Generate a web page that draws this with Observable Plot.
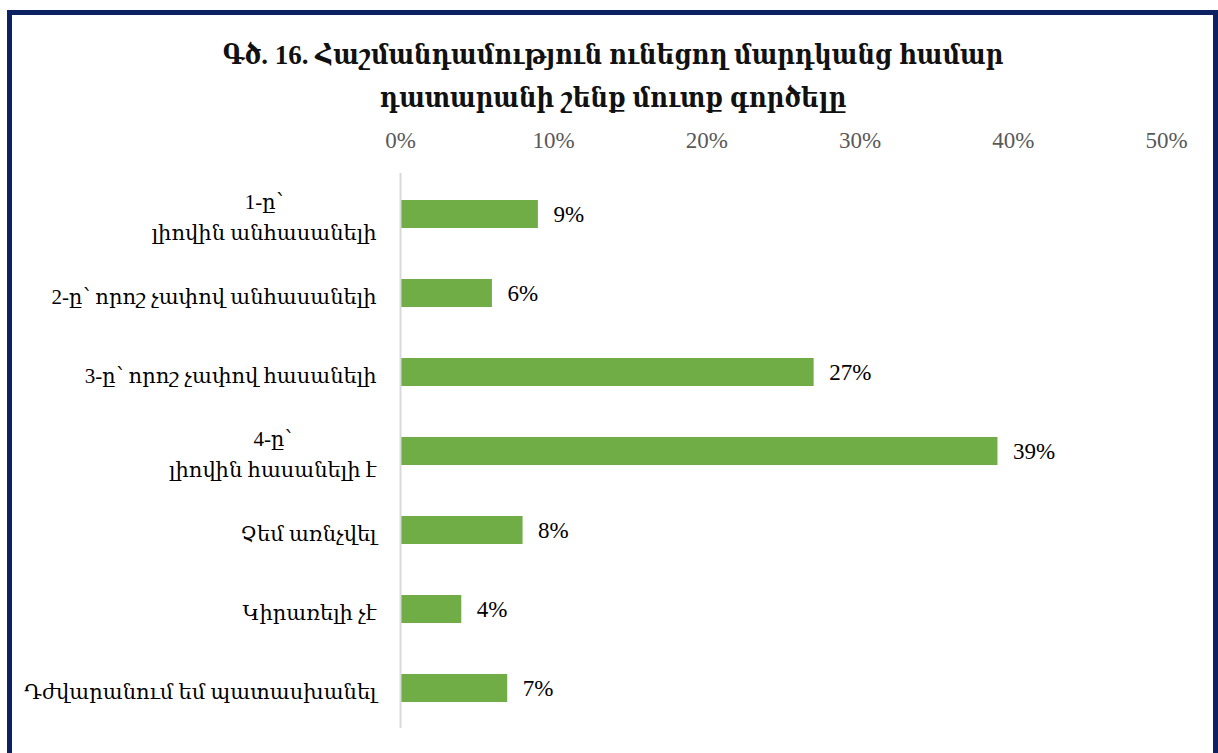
<!DOCTYPE html>
<html>
<head>
<meta charset="utf-8">
<script src="https://cdn.jsdelivr.net/npm/d3@7"></script>
<script src="https://cdn.jsdelivr.net/npm/@observablehq/plot@0.6"></script>
<style>
  html, body { margin: 0; padding: 0; background: #fff; }
  #wrap { position: relative; width: 1218px; height: 753px; overflow: hidden; }
  #frame { position: absolute; left: 7px; top: 10px; width: 1201px; height: 800px; border: 5px solid #0b2161; box-sizing: content-box; }
  #title { position: absolute; left: 0; top: 34px; width: 1226px; text-align: center; font-family: "Liberation Serif", "DejaVu Serif Condensed", "DejaVu Serif", serif; font-weight: bold; font-size: 27px; line-height: 43px; color: #111; }
  #chart { position: absolute; left: 0; top: 110px; }
</style>
</head>
<body>
<div id="wrap">
  <div id="frame"></div>
  <div id="title">Գծ. 16. Հաշմանդամություն ունեցող մարդկանց համար<br>դատարանի շենք մուտք գործելը</div>
  <div id="chart"></div>
</div>
<script>
const categories = [
  "1-ը՝\nլիովին անհասանելի",
  "2-ը՝ որոշ չափով անհասանելի",
  "3-ը՝ որոշ չափով հասանելի",
  "4-ը՝\nլիովին հասանելի է",
  "Չեմ առնչվել",
  "Կիրառելի չէ",
  "Դժվարանում եմ պատասխանել"
];
const values = [9, 6, 27, 39, 8, 4, 7];
const xTicks = [0, 10, 20, 30, 40, 50];

const data = categories.map((c, i) => ({cat: c, value: values[i]}));

const FONT = "'Liberation Serif', 'DejaVu Serif', serif";
const FS = 21;
const ctx = document.createElement("canvas").getContext("2d");
ctx.font = `${FS}px ${FONT}`;
const blockWidth = c => Math.max(...c.split("\n").map(l => ctx.measureText(l).width));

const labelMarks = data.map(d => Plot.text([d], {
  x: () => 0,
  y: "cat",
  text: "cat",
  textAnchor: "middle",
  lineAnchor: "middle",
  lineHeight: 1.5,
  dx: -24 - blockWidth(d.cat) / 2,
  fontSize: FS,
  fill: "#000"
}));

const plot = Plot.plot({
  width: 1218,
  height: 643,
  marginLeft: 400,
  marginRight: 52,
  marginTop: 63,
  marginBottom: 25,
  style: {fontFamily: FONT, background: "transparent", overflow: "visible"},
  x: {domain: [0, 50]},
  y: {domain: categories, paddingInner: 0.647, paddingOuter: 0.3235, axis: null},
  marks: [
    Plot.axisX(xTicks, {anchor: "top", tickSize: 0, tickPadding: 26, tickFormat: d => d + "%", fontSize: 23, fill: "#595959", label: null}),
    Plot.barX(data, {x: "value", y: "cat", fill: "#70AD47"}),
    Plot.ruleX([0], {stroke: "#D9D9D9", strokeWidth: 2}),
    Plot.text(data, {x: "value", y: "cat", text: d => d.value + "%", textAnchor: "start", dx: 15, fontSize: 23, fill: "#000"}),
    ...labelMarks
  ]
});
document.getElementById("chart").appendChild(plot);
</script>
</body>
</html>
